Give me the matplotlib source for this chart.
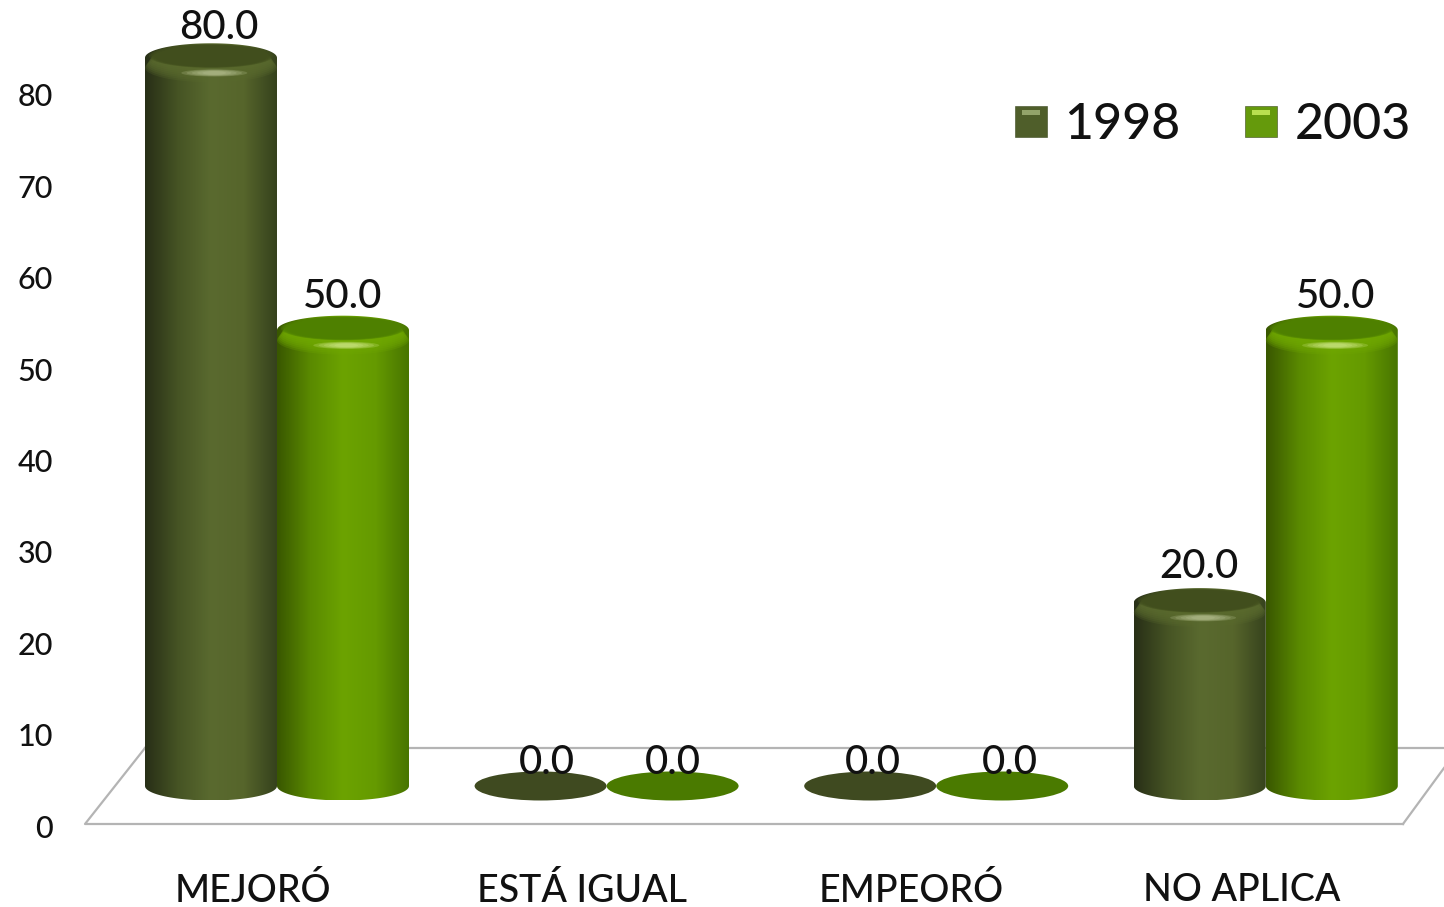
import numpy as np
import matplotlib
matplotlib.use('Agg')
import matplotlib.pyplot as plt
from matplotlib.legend_handler import HandlerBase
from matplotlib.lines import Line2D
from matplotlib.patches import Ellipse, Polygon, Rectangle
from matplotlib.colors import LinearSegmentedColormap

plt.rcParams['font.family'] = ['Lato', 'DejaVu Sans']
plt.rcParams['font.weight'] = 'medium'

# datos
categories = ['MEJORÓ', 'ESTÁ IGUAL', 'EMPEORÓ', 'NO APLICA']
years = ['1998', '2003']
values_1998 = [80.0, 0.0, 0.0, 20.0]
values_2003 = [50.0, 0.0, 0.0, 50.0]
y_ticks = [0, 10, 20, 30, 40, 50, 60, 70, 80]

W, H = 1444, 907
PX_X = 329.6    # pixeles por categoria
PX_Y = 9.08     # pixeles por unidad
X0, Y0 = 277.0, 786.0
BAR_W = 132 / PX_X
ELL_H = 14.5 / PX_Y

# ajuste de etiquetas respecto a la barra (pixeles)
label_dx = {'1998': [8, 6, 3, -1], '2003': [0, 0, 8, 4]}
label_dy = {'1998': [32, 23, 23, 38], '2003': [36, 23, 23, 36]}

styles = {
    '1998': dict(side=['#282f17', '#465424', '#5a6a2f', '#56652b', '#36421d'],
                 top='#414e1d', rim='#5a6a2e', glow='#c4cd9e',
                 flat='#3f4a20', box='#4f5e2a', shine='#93a36a'),
    '2003': dict(side=['#395700', '#5a8a00', '#6ca300', '#659a00', '#487500'],
                 top='#4e8000', rim='#70a800', glow='#dcf09a',
                 flat='#4a7a00', box='#659a0c', shine='#b9e050'),
}

fig = plt.figure(figsize=(W / 100, H / 100), dpi=100)

# ejes de las barras, ocupan toda la figura
ax = fig.add_axes([0, 0, 1, 1], frameon=False)
xlim = (-X0 / PX_X, (W - X0) / PX_X)
ylim = ((Y0 - H) / PX_Y, Y0 / PX_Y)


def to_data(px, py):
    return (px - X0) / PX_X, (Y0 - py) / PX_Y


# plano del suelo
floor_front = [to_data(1403, 824), to_data(85, 824), to_data(145, 748)]
floor_back = [to_data(145, 748), to_data(1444, 748)]
floor_right = [to_data(1403, 824), to_data(1444, 768)]
for seg in (floor_front, floor_back, floor_right):
    xs, ys = zip(*seg)
    ax.add_line(Line2D(xs, ys, color='#b4b4b4', lw=1.6, zorder=1))


def cylinder(x, value, st):
    left, right = x - BAR_W / 2, x + BAR_W / 2
    if value == 0:
        ax.add_patch(Ellipse((x, 0), BAR_W, 2 * ELL_H, color=st['flat'], lw=0, zorder=3))
        return
    t = np.linspace(0, np.pi, 60)
    lower = np.column_stack([x - BAR_W / 2 * np.cos(t), -ELL_H * np.sin(t)])
    upper = np.column_stack([x + BAR_W / 2 * np.cos(t), value + 0.2 + ELL_H * np.sin(t)])
    body = Polygon(np.vstack([lower, upper]), closed=True, fc='none', lw=0, zorder=3)
    ax.add_patch(body)
    cmap = LinearSegmentedColormap.from_list('side', st['side'])
    im = ax.imshow(np.linspace(0, 1, 200).reshape(1, -1), cmap=cmap, aspect='auto',
                   extent=(left, right, -ELL_H, value + 0.2 + ELL_H), zorder=3)
    im.set_clip_path(body)
    # tapa superior, borde suave con varias elipses
    for k in range(8):
        f = k / 7
        ax.add_patch(Ellipse((x, value + 0.2 - 1.1 * (1 - f)), BAR_W * (1 - 0.1 * f),
                             2 * ELL_H * (1 - 0.2 * f), color=st['rim'],
                             alpha=0.25 + 0.1 * f, lw=0, zorder=4))
    for k in range(6):
        f = k / 5
        ax.add_patch(Ellipse((x, value + 0.4), BAR_W * (0.94 - 0.12 * f),
                             2 * ELL_H * (0.82 - 0.12 * f), color=st['top'],
                             alpha=0.45, lw=0, zorder=5))
    # brillo frontal
    for k in range(5):
        f = k / 4
        ax.add_patch(Ellipse((x + 0.01, value - ELL_H * 0.92), BAR_W * (0.5 - 0.32 * f),
                             ELL_H * (0.5 - 0.25 * f), color=st['glow'], alpha=0.22, lw=0, zorder=6))


group_x = np.arange(len(categories))
series = {'1998': values_1998, '2003': values_2003}
for j, year in enumerate(years):
    offset = (j - 0.5) * BAR_W
    for i, v in enumerate(series[year]):
        cylinder(group_x[i] + offset, v, styles[year])
        # etiqueta de datos
        ax.annotate(f'{v:.1f}', (group_x[i] + offset, v),
                    xytext=(label_dx[year][i] * 0.72, label_dy[year][i] * 0.72),
                    textcoords='offset points', ha='center', va='center',
                    fontsize=29, color='#111111', zorder=7)

ax.set_xlim(xlim)
ax.set_ylim(ylim)
ax.set_xticks([])
ax.set_yticks([])

# eje delantero: escala 0-80 y categorias
ax_f = fig.add_axes([88 / W, (H - 826) / H, 1318 / W, (826 - 95) / H], frameon=False)
ax_f.patch.set_alpha(0)
ax_f.set_ylim(0, 80)
ax_f.set_xlim(-0.5, 3.5)
ax_f.set_yticks(y_ticks)
ax_f.set_xticks(range(len(categories)))
ax_f.set_xticklabels(categories)
ax_f.tick_params(axis='y', length=0, pad=25, labelsize=22, labelcolor='#111111')
ax_f.tick_params(axis='x', length=0, pad=34, labelsize=27, labelcolor='#111111')


class BoxHandler(HandlerBase):
    # cuadrito de la leyenda con brillo arriba
    def create_artists(self, legend, orig, xd, yd, w, h, fs, trans):
        st = orig.style
        box = Rectangle((-xd, -yd), w, h, fc=st['box'], ec='#3d4a20', lw=0.4, transform=trans)
        glow = Rectangle((-xd + w * 0.22, -yd + h * 0.72), w * 0.56, h * 0.14,
                         fc=st['shine'], lw=0, transform=trans)
        return [box, glow]


handles = []
for year in years:
    h = Rectangle((0, 0), 1, 1)
    h.style = styles[year]
    handles.append(h)
ax_f.legend(handles, years, handler_map={Rectangle: BoxHandler()}, ncol=2, frameon=False,
            fontsize=36, labelcolor='#111111', handlelength=0.64, handleheight=0.56,
            handletextpad=0.35, columnspacing=1.3, borderpad=0, borderaxespad=0,
            loc='center right', bbox_to_anchor=((1411 - 88) / 1318, (826 - 125) / (826 - 95)))

fig.savefig('out.png', dpi=100)
